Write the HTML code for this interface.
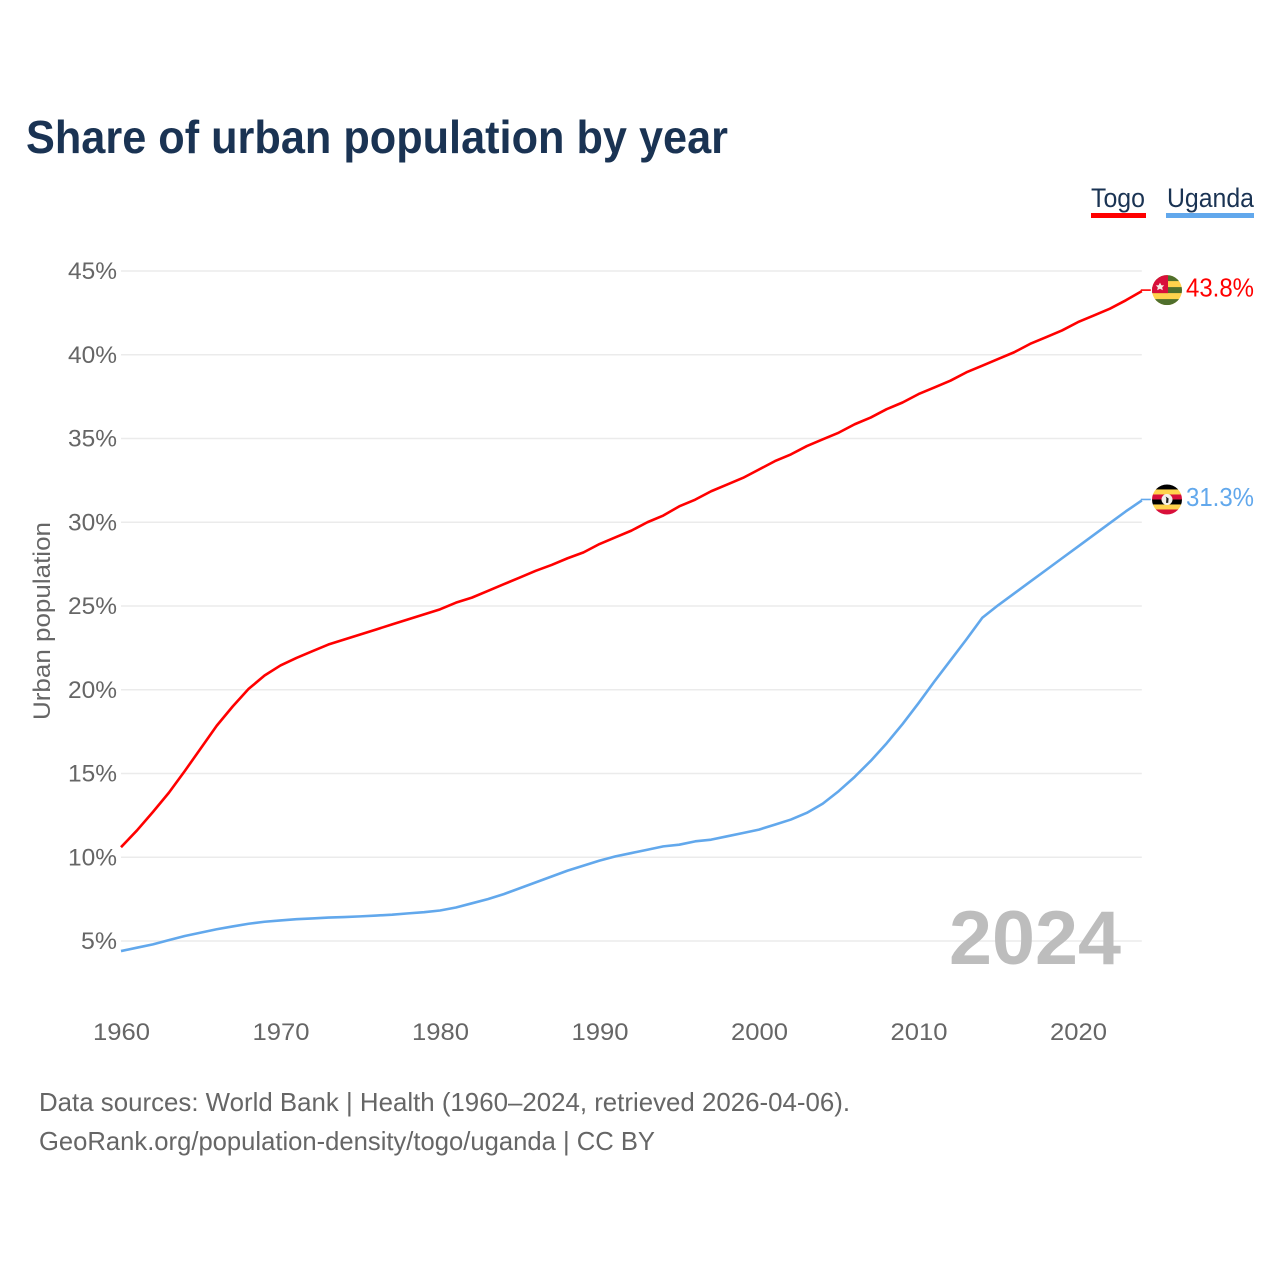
<!DOCTYPE html>
<html lang="en">
<head>
<meta charset="utf-8">
<title>Share of urban population by year</title>
<style>
html,body{margin:0;padding:0;background:#fff;width:1280px;height:1280px;overflow:hidden}
svg{display:block;font-family:"Liberation Sans",sans-serif}
</style>
</head>
<body>
<svg id="chart" width="1280" height="1280" viewBox="0 0 1280 1280" xmlns="http://www.w3.org/2000/svg">
  <rect width="1280" height="1280" fill="#fff"/>
  <text x="26" y="153" font-size="46" font-weight="700" fill="#1a3353" textLength="702" lengthAdjust="spacingAndGlyphs">Share of urban population by year</text>

  <g>
    <g>
      <text x="1091" y="207" font-size="27" fill="#1a3353" textLength="54" lengthAdjust="spacingAndGlyphs">Togo</text>
      <rect x="1091" y="213" width="55" height="5" fill="#ff0000"/>
    </g>
    <g>
      <text x="1167" y="207" font-size="27" fill="#1a3353" textLength="87" lengthAdjust="spacingAndGlyphs">Uganda</text>
      <rect x="1166" y="213" width="88" height="5" fill="#62a8ec"/>
    </g>
  </g>

  <text transform="translate(50,621) rotate(-90)" text-anchor="middle" font-size="24" fill="#666" textLength="198" lengthAdjust="spacingAndGlyphs">Urban population</text>

  <g id="grid"></g>
  <g id="yticks"></g>
  <g id="xticks"></g>

  <text x="949" y="964" font-size="76" font-weight="700" fill="#bdbdbd" textLength="172" lengthAdjust="spacingAndGlyphs">2024</text>

  <path id="line-togo" fill="none" stroke="#ff0000" stroke-width="2.6" stroke-linejoin="round"/>
  <path id="line-uganda" fill="none" stroke="#62a8ec" stroke-width="2.6" stroke-linejoin="round"/>
  <line id="conn-togo" stroke="#ff0000" stroke-width="1.6"/>
  <line id="conn-uganda" stroke="#62a8ec" stroke-width="1.6"/>

  <defs>
    <clipPath id="clip-flag"><circle cx="0" cy="0" r="15"/></clipPath>
  </defs>

  <g id="flag-togo">
    <g clip-path="url(#clip-flag)">
      <rect x="-15" y="-15" width="30" height="30" fill="#ffd34d"/>
      <rect x="-15" y="-15" width="30" height="6" fill="#4f6f2c"/>
      <rect x="-15" y="-3" width="30" height="6" fill="#4f6f2c"/>
      <rect x="-15" y="9" width="30" height="6" fill="#4f6f2c"/>
      <rect x="-15" y="-15" width="16" height="18" fill="#d80f3a"/>
      <polygon points="-7,-7.5 -5.6,-4.9 -2.8,-4.7 -4.8,-2.7 -4.2,0.1 -7,-1.3 -9.8,0.1 -9.2,-2.7 -11.2,-4.7 -8.4,-4.9" fill="#f5f0e8"/>
    </g>
  </g>
  <g id="flag-uganda">
    <g clip-path="url(#clip-flag)">
      <rect x="-15" y="-15" width="30" height="5" fill="#000"/>
      <rect x="-15" y="-10" width="30" height="5" fill="#ffd34d"/>
      <rect x="-15" y="-5" width="30" height="5" fill="#d80f3a"/>
      <rect x="-15" y="0" width="30" height="5" fill="#000"/>
      <rect x="-15" y="5" width="30" height="5" fill="#ffd34d"/>
      <rect x="-15" y="10" width="30" height="5" fill="#d80f3a"/>
      <circle r="5.5" fill="#f3f0ea"/>
      <path d="M-1.4,-3 L1.6,-1 L1.2,3.4 L-1,3.4 L-0.6,-1 Z" fill="#222"/>
    </g>
  </g>

  <text id="value-togo" x="1186" font-size="26" fill="#ff0000" textLength="68" lengthAdjust="spacingAndGlyphs"></text>
  <text id="value-uganda" x="1186" font-size="26" fill="#62a8ec" textLength="68" lengthAdjust="spacingAndGlyphs"></text>

  <text x="39" y="1111" font-size="26" fill="#666" textLength="811" lengthAdjust="spacingAndGlyphs">Data sources: World Bank | Health (1960–2024, retrieved 2026-04-06).</text>
  <text x="39" y="1150" font-size="26" fill="#666" textLength="616" lengthAdjust="spacingAndGlyphs">GeoRank.org/population-density/togo/uganda | CC BY</text>
</svg>
<script>
const startYear = 1960;
const togoValues = [10.6,11.6,12.7,13.85,15.15,16.5,17.85,19.0,20.05,20.85,21.45,21.9,22.3,22.7,23.0,23.3,23.6,23.9,24.2,24.5,24.8,25.2,25.5,25.9,26.3,26.7,27.1,27.45,27.85,28.2,28.7,29.1,29.5,30.0,30.4,30.95,31.35,31.85,32.25,32.65,33.15,33.65,34.05,34.55,34.95,35.35,35.85,36.25,36.75,37.15,37.65,38.05,38.45,38.95,39.35,39.75,40.15,40.65,41.05,41.45,41.95,42.35,42.75,43.25,43.8];
const ugandaValues = [4.4,4.6,4.8,5.05,5.3,5.5,5.7,5.87,6.03,6.15,6.23,6.3,6.35,6.4,6.43,6.47,6.52,6.57,6.65,6.72,6.82,7.0,7.25,7.5,7.8,8.15,8.5,8.85,9.2,9.5,9.8,10.05,10.25,10.45,10.65,10.75,10.95,11.05,11.25,11.45,11.65,11.95,12.25,12.65,13.2,13.95,14.8,15.75,16.8,17.95,19.2,20.5,21.75,23.0,24.3,25.05,25.75,26.45,27.15,27.85,28.55,29.25,29.95,30.65,31.3];
const yTicks = [5,10,15,20,25,30,35,40,45];
const xTicks = [1960,1970,1980,1990,2000,2010,2020];

const SVGNS = 'http://www.w3.org/2000/svg';
function xScale(year){ return 121 + (year - 1960) * 15.95; }
function yScale(v){ return 941 - (v - 5) * 16.75; }

const grid = document.getElementById('grid');
const yLabels = document.getElementById('yticks');
const xLabels = document.getElementById('xticks');

yTicks.forEach(function(t){
  const l = document.createElementNS(SVGNS,'line');
  
  
  l.setAttribute('x1', 121);
  l.setAttribute('x2', xScale(2024));
  l.setAttribute('y1', yScale(t));
  l.setAttribute('y2', yScale(t));
  l.setAttribute('stroke', '#ebebeb');
  l.setAttribute('stroke-width', '1.5');
  grid.appendChild(l);
  const s = document.createElementNS(SVGNS,'text');
  
  
  s.setAttribute('x', 117);
  s.setAttribute('y', yScale(t) + 8);
  s.setAttribute('text-anchor', 'end');
  s.setAttribute('font-size', '24.5');
  s.setAttribute('fill', '#666');
  s.setAttribute('textLength', t < 10 ? 36 : 49);
  s.setAttribute('lengthAdjust', 'spacingAndGlyphs');
  s.textContent = t + '%';
  yLabels.appendChild(s);
});

xTicks.forEach(function(t){
  const s = document.createElementNS(SVGNS,'text');
  
  
  s.setAttribute('x', xScale(t) + 0.5);
  s.setAttribute('y', 1040);
  s.setAttribute('text-anchor', 'middle');
  s.setAttribute('font-size', '24.5');
  s.setAttribute('fill', '#666');
  s.setAttribute('textLength', 57);
  s.setAttribute('lengthAdjust', 'spacingAndGlyphs');
  s.textContent = t;
  xLabels.appendChild(s);
});

function linePath(values){
  return values.map(function(v,i){
    return (i ? 'L' : 'M') + xScale(startYear + i).toFixed(2) + ',' + yScale(v).toFixed(2);
  }).join('');
}

function drawSeries(key, values){
  document.getElementById('line-' + key).setAttribute('d', linePath(values));
  const last = values[values.length - 1];
  const lx = xScale(startYear + values.length - 1);
  const ly = yScale(last) - 1;
  const c = document.getElementById('conn-' + key);
  c.setAttribute('x1', lx - 1);
  c.setAttribute('x2', lx + 9);
  c.setAttribute('y1', ly);
  c.setAttribute('y2', ly);
  document.getElementById('flag-' + key).setAttribute('transform', 'translate(1167,' + ly + ')');
  const t = document.getElementById('value-' + key);
  t.setAttribute('y', ly + 6.5);
  t.textContent = last.toFixed(1) + '%';
}
drawSeries('togo', togoValues);
drawSeries('uganda', ugandaValues);
</script>
</body>
</html>
